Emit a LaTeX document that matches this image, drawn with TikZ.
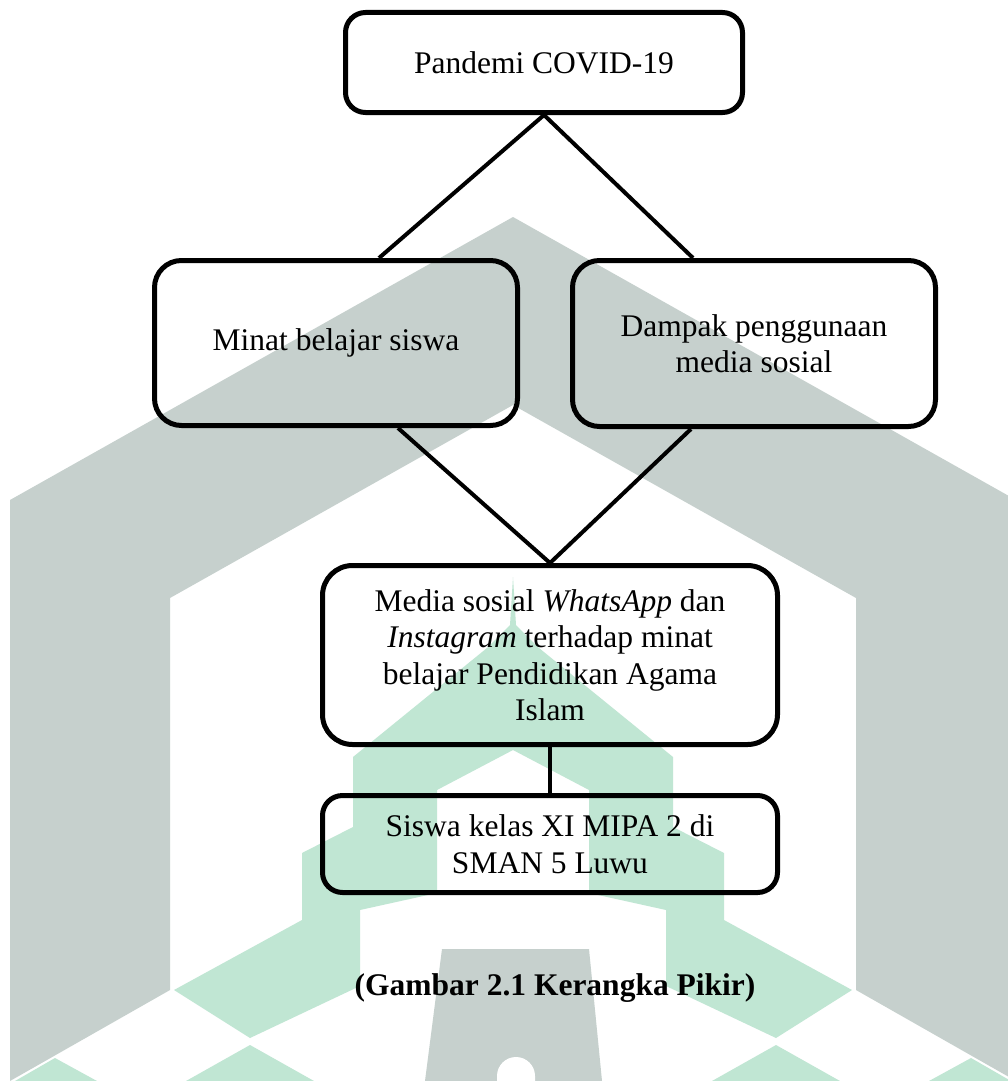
\documentclass[tikz,border=0pt]{standalone}
\usepackage{fontspec}
\setmainfont{Liberation Serif}
\definecolor{wmgray}{RGB}{198,208,205}
\definecolor{wmgreen}{RGB}{192,230,211}
\begin{document}
\begin{tikzpicture}[x=1pt,y=-1pt,
  box/.style={draw=black, line width=5pt, inner sep=0pt, align=center,
    font=\fontsize{31.5}{36.5}\selectfont},
  link/.style={draw=black, line width=4pt},
  captionstyle/.style={inner sep=0pt, anchor=base, font=\bfseries\fontsize{31.5}{36}\selectfont}]
\useasboundingbox (0,0) rectangle (1008,1081);
\fill[white] (0,0) rectangle (1008,1081);
% watermark: gray chevron
\fill[wmgray] (10,1081) -- (10,500) -- (513,217) -- (1016,500) -- (1016,1081) -- (856,990)
  -- (856,598) -- (513,405) -- (170,598) -- (170,990) -- cycle;
% gray central pillar with arch
\fill[wmgray] (442,949) -- (589,949) -- (602,1081) -- (425,1081) -- cycle;
\fill[white] (497,1081) -- (497,1076) arc[start angle=180, end angle=360, radius=19] -- (535,1081) -- cycle;
% green mosque and band
\fill[wmgreen] (513,577) -- (510,625) -- (487,648) -- (353,757) -- (353,827) -- (302,853)
  -- (302,920) -- (174,990) -- (250,1038) -- (360,986) -- (360,910) -- (437,893)
  -- (437,790) -- (513,750) -- (589,790) -- (589,893) -- (666,910) -- (666,986)
  -- (776,1038) -- (852,990) -- (724,920) -- (724,853) -- (673,827) -- (673,757)
  -- (539,648) -- (516,625) -- cycle;
\fill[wmgreen] (186,1081) -- (250,1045) -- (314,1081) -- cycle;
\fill[wmgreen] (712,1081) -- (776,1045) -- (840,1081) -- cycle;
\fill[wmgreen] (15,1081) -- (55,1058) -- (97,1081) -- cycle;
\fill[wmgreen] (929,1081) -- (971,1058) -- (1011,1081) -- cycle;
% boxes
\node[box, rounded corners=20pt, minimum width=397pt, minimum height=100pt] (pandemi) at (544,62.5) {Pandemi COVID-19};
\node[box, rounded corners=27pt, minimum width=363pt, minimum height=165pt] (minat) at (336,343) {Minat belajar siswa};
\node[box, rounded corners=27pt, minimum width=363pt, minimum height=166pt] (dampak) at (754,343.5) {Dampak penggunaan\\media sosial};
\node[box, rounded corners=30pt, minimum width=455pt, minimum height=179pt] (media) at (550,655) {Media sosial \textit{WhatsApp} dan\\\textit{Instagram} terhadap minat\\belajar Pendidikan Agama\\Islam};
\node[box, rounded corners=20pt, minimum width=455pt, minimum height=97pt] (siswa) at (550,844) {Siswa kelas XI MIPA 2 di\\SMAN 5 Luwu};
% connectors
\draw[link] (pandemi.south) -- ([xshift=43pt]minat.north);
\draw[link] (pandemi.south) -- ([xshift=-61pt]dampak.north);
\draw[link] ([xshift=62pt]minat.south) -- (media.north);
\draw[link] ([xshift=-63pt]dampak.south) -- (media.north);
\draw[link] (media.south) -- (siswa.north);
% caption
\node[captionstyle] (caption) at (555,995) {(Gambar 2.1 Kerangka Pikir)};
\end{tikzpicture}
\end{document}
